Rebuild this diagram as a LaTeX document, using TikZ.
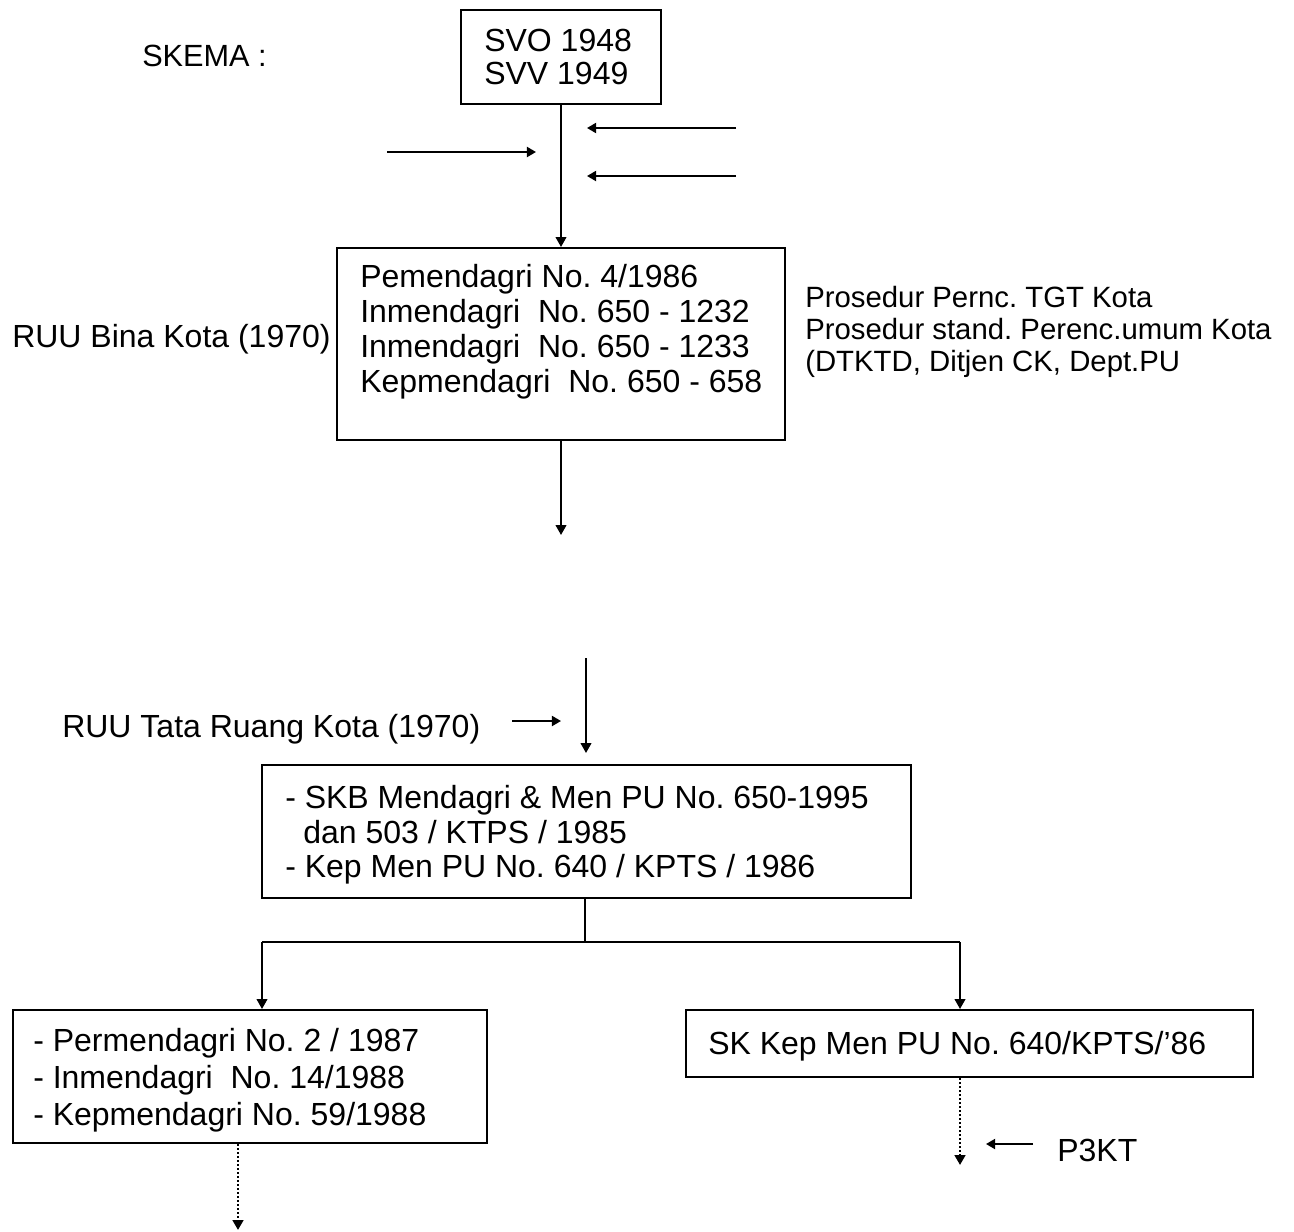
\documentclass[tikz,border=0pt]{standalone}
\usepackage{fontspec}
\setmainfont{Liberation Sans}
\usetikzlibrary{arrows.meta,fit}
\frenchspacing

\tikzset{
  box/.style={draw, line width=1.5pt, inner sep=0pt, rectangle},
  txt/.style={anchor=base west, inner sep=0pt, font=\fontsize{24pt}{28pt}\selectfont},
  smalltxt/.style={txt, font=\fontsize{22pt}{26pt}\selectfont},
  link/.style={line width=1.5pt, -{Triangle[length=7.5pt,width=8pt]}},
  sidelink/.style={line width=1.5pt, -{Triangle[length=6.8pt,width=7.5pt]}},
  plain/.style={line width=1.5pt},
  dotlink/.style={line width=2pt, dash pattern=on 1.5pt off 1.5pt, -{Triangle[length=7.5pt,width=8pt]}}
}

\begin{document}
\begin{tikzpicture}[x=0.75pt,y=-0.75pt]
\useasboundingbox (0,0) rectangle (1294,1231);

% title
\node[txt, font=\fontsize{23pt}{27pt}\selectfont] (title) at (142,66) {SKEMA :};

% boxes
\node[box, fit={(461,10)(661,104)}] (svo) {};
\node[box, fit={(337,248)(785,440)}] (bina) {};
\node[box, fit={(262,765)(911,898)}] (skb) {};
\node[box, fit={(13,1010)(487,1143)}] (mdn) {};
\node[box, fit={(686,1010)(1253,1077)}] (pu) {};

% box texts
\node[txt] (svo1) at (484,51.5) {SVO 1948};
\node[txt] (svo2) at (484,84.5) {SVV 1949};

\node[txt] (bina1) at (360,287.5) {Pemendagri No. 4/1986};
\node[txt] (bina2) at (360,322.5) {Inmendagri\ \ No. 650 - 1232};
\node[txt] (bina3) at (360,357.5) {Inmendagri\ \ No. 650 - 1233};
\node[txt] (bina4) at (360,392.5) {Kepmendagri\ \ No. 650 - 658};

\node[txt] (skb1) at (285,808) {- SKB Mendagri \& Men PU No. 650-1995};
\node[txt] (skb2) at (303,843) {dan 503 / KTPS / 1985};
\node[txt] (skb3) at (285,877) {- Kep Men PU No. 640 / KPTS / 1986};

\node[txt] (mdn1) at (33,1051.5) {- Permendagri No. 2 / 1987};
\node[txt] (mdn2) at (33,1088.5) {- Inmendagri\ \ No. 14/1988};
\node[txt] (mdn3) at (33,1125.5) {- Kepmendagri No. 59/1988};

\node[txt] (pu1) at (708,1054.5) {SK Kep Men PU No. 640/KPTS/'86};

% side labels
\node[txt] (ruubina) at (12,347.5) {RUU Bina Kota (1970)};
\node[smalltxt] (pros1) at (805,307.5) {Prosedur Pernc. TGT Kota};
\node[smalltxt] (pros2) at (805,339.5) {Prosedur stand. Perenc.umum Kota};
\node[smalltxt] (pros3) at (805,371.5) {(DTKTD, Ditjen CK, Dept.PU};
\node[txt] (ruutata) at (62,737) {RUU Tata Ruang Kota (1970)};
\node[txt] (p3kt) at (1057,1161.5) {P3KT};

% free ends of connectors
\coordinate (r1s) at (736,128);
\coordinate (r1e) at (587,128);
\coordinate (r2s) at (736,176);
\coordinate (r2e) at (587,176);
\coordinate (l1s) at (387,152);
\coordinate (l1e) at (536,152);
\coordinate (gapend) at (561,535);
\coordinate (gapstart) at (586,658);
\coordinate (gaptip) at (586,753);
\coordinate (tatas) at (512,721);
\coordinate (tatae) at (561,721);
\coordinate (split) at (585,942);
\coordinate (splitl) at (262,942);
\coordinate (splitr) at (960,942);
\coordinate (dotl) at (238,1230);
\coordinate (dotr) at (960,1165);
\coordinate (p3s) at (1033,1144);
\coordinate (p3e) at (986,1144);

% connectors
\draw[link] (svo.south -| 561,0) -- (bina.north -| 561,0);
\draw[sidelink] (r1s) -- (r1e);
\draw[sidelink] (r2s) -- (r2e);
\draw[sidelink] (l1s) -- (l1e);
\draw[link] (bina.south -| 561,0) -- (gapend);
\draw[link] (gapstart) -- (gaptip);
\draw[sidelink] (tatas) -- (tatae);
\draw[plain] (skb.south -| split) -- (split);
\draw[plain] (splitl) -- (splitr);
\draw[link] (splitl) -- (mdn.north -| splitl);
\draw[link] (splitr) -- (pu.north -| splitr);
\draw[dotlink] (mdn.south -| dotl) -- (dotl);
\draw[dotlink] (pu.south -| dotr) -- (dotr);
\draw[sidelink] (p3s) -- (p3e);
\end{tikzpicture}
\end{document}
